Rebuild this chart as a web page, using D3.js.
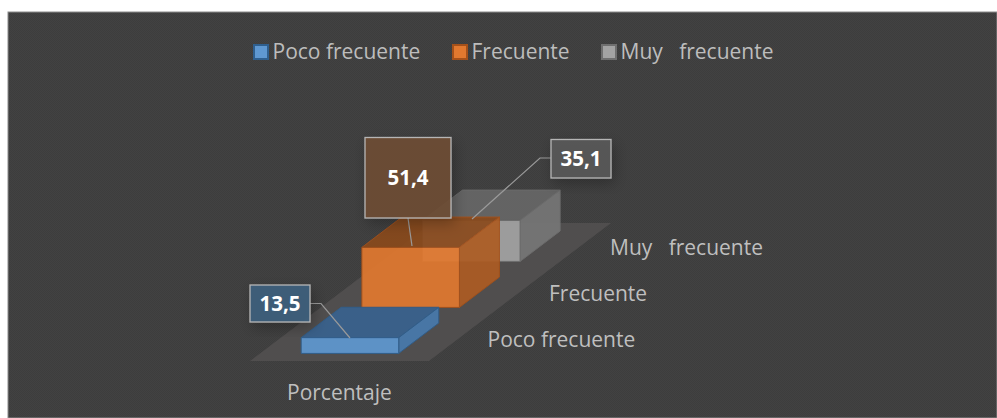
<!DOCTYPE html>
<html>
<head>
<meta charset="utf-8">
<script src="https://cdn.jsdelivr.net/npm/d3@7"></script>
<style>
  html, body { margin: 0; padding: 0; background: #fff; }
  svg { display: block; }
  text { font-family: "Open Sans", "Noto Sans", sans-serif; }
</style>
</head>
<body>
<svg id="chart" width="997" height="418"></svg>
<script>
// values
const categories = ["Poco frecuente", "Frecuente", "Muy   frecuente"];
const percentages = [13.5, 51.4, 35.1];
const labels = ["13,5", "51,4", "35,1"];
const seriesName = "Porcentaje";

const colors = ["#5f98d1", "#e2792f", "#a3a3a3"];
const topColors = ["#39628f", "#8a4a1c", "#676767"];
const sideColors = ["#487aad", "#ad5c23", "#777777"];
const edges = ["#2f5f8e", "#a5511a", "#6f6f6f"];

const width = 997, height = 418;
const svg = d3.select("#chart").attr("viewBox", [0, 0, width, height]);

// oblique projection: along the front edge, back into the floor, and up
const across = d3.scaleLinear().domain([0, 1]).range([0, 179]);
const depth = d3.scaleBand().domain(categories).range([0, 1]);
const up = d3.scaleLinear().domain([0, 100]).range([0, 116.7]);
const origin = [250, 361], depthVec = [182, -138];

function project(a, d, v) {
    return [
        origin[0] + across(a) + d * depthVec[0],
        origin[1] + d * depthVec[1] - up(v)
    ];
}
const poly = pts => "M" + pts.map(p => p.join(",")).join("L") + "Z";

const defs = svg.append("defs");
const shadow = defs.append("filter").attr("id", "shadow")
    .attr("x", "-40%").attr("y", "-40%").attr("width", "180%").attr("height", "180%");
shadow.append("feDropShadow").attr("dx", 3).attr("dy", 5).attr("stdDeviation", 7)
    .attr("flood-color", "#000").attr("flood-opacity", 0.28);

// fine weave of the panel background
const weave = defs.append("pattern").attr("id", "weave")
    .attr("width", 2).attr("height", 2).attr("patternUnits", "userSpaceOnUse");
weave.append("rect").attr("width", 2).attr("height", 2).attr("fill", "#424242");
weave.append("rect").attr("width", 1).attr("height", 1).attr("fill", "#3d3d3d");
weave.append("rect").attr("x", 1).attr("y", 1).attr("width", 1).attr("height", 1).attr("fill", "#3d3d3d");

// panel
svg.append("rect").attr("x", 8).attr("y", 12).attr("width", width - 8).attr("height", height - 12)
    .attr("fill", "url(#weave)").attr("stroke", "#8c8c8c").attr("stroke-width", 1);

// floor
svg.append("path")
    .attr("d", poly([project(0, 0, 0), project(1, 0, 0), project(1, 1, 0), project(0, 1, 0)]))
    .attr("fill", "#504e4e");

// bars, back to front
const barA0 = 0.23, barA1 = 0.775, barDepth = 0.22, barStart = 0.055;
const rows = categories.map((c, i) => ({ c, v: percentages[i], i }));

const bar = svg.append("g").selectAll("g")
    .data(rows.slice().reverse())
    .join("g")
    .attr("opacity", 0.92)
    .attr("stroke", d => edges[d.i])
    .attr("stroke-width", 1)
    .attr("stroke-linejoin", "round");

function corners(d) {
    const d0 = depth(d.c) + barStart;
    const d1 = d0 + barDepth;
    return {
        fb: project(barA0, d0, 0), fbr: project(barA1, d0, 0),
        ft: project(barA0, d0, d.v), ftr: project(barA1, d0, d.v),
        bt: project(barA0, d1, d.v), btr: project(barA1, d1, d.v),
        bbr: project(barA1, d1, 0)
    };
}

// top face
bar.append("path")
    .attr("d", d => { const k = corners(d); return poly([k.ft, k.ftr, k.btr, k.bt]); })
    .attr("fill", d => topColors[d.i]);
// side face
bar.append("path")
    .attr("d", d => { const k = corners(d); return poly([k.ftr, k.fbr, k.bbr, k.btr]); })
    .attr("fill", d => sideColors[d.i]);
// front face
bar.append("path")
    .attr("d", d => { const k = corners(d); return poly([k.fb, k.fbr, k.ftr, k.ft]); })
    .attr("fill", d => colors[d.i]);

// depth axis labels
const axisLabelX = [487.5, 549, 610];
svg.append("g").selectAll("text")
    .data(categories)
    .join("text")
    .attr("x", (d, i) => axisLabelX[i])
    .attr("y", d => project(1, depth(d), 0)[1] - 14)
    .attr("fill", "#bfbfbf")
    .attr("font-size", 21)
    .style("white-space", "pre")
    .text(d => d);

svg.append("text")
    .attr("x", 287).attr("y", 400)
    .attr("fill", "#bfbfbf").attr("font-size", 21)
    .text(seriesName);

// data labels with leader lines
const boxes = [
    { x: 250, y: 285, w: 60, h: 37, line: [[310, 303.5], [321, 303.5], [350, 338]] },
    { x: 365, y: 137.5, w: 86, h: 80.5, line: [[408, 218], [412, 246]] },
    { x: 551, y: 139.5, w: 60, h: 38.5, line: [[551, 158], [540, 158], [472, 219]] }
];
const boxFill = ["#3e5f7e", "#6f4c33", "#595959"];

const lab = svg.append("g").selectAll("g")
    .data(rows)
    .join("g");

lab.append("path")
    .attr("d", d => d3.line()(boxes[d.i].line))
    .attr("fill", "none").attr("stroke", "#9a9a9a").attr("stroke-width", 1.2);
lab.append("rect")
    .attr("x", d => boxes[d.i].x).attr("y", d => boxes[d.i].y)
    .attr("width", d => boxes[d.i].w).attr("height", d => boxes[d.i].h)
    .attr("fill", d => boxFill[d.i])
    .attr("fill-opacity", 0.9)
    .attr("stroke", "#b5b5b5").attr("stroke-width", 1.3)
    .attr("filter", "url(#shadow)");
lab.append("text")
    .attr("x", d => boxes[d.i].x + boxes[d.i].w / 2)
    .attr("y", d => boxes[d.i].y + boxes[d.i].h / 2)
    .attr("dy", "0.36em")
    .attr("text-anchor", "middle")
    .attr("fill", "#fff").attr("font-weight", 700).attr("font-size", 20.5)
    .text(d => labels[d.i]);

// legend
const legendX = [254, 453, 602];
const legend = svg.append("g").selectAll("g")
    .data(categories)
    .join("g")
    .attr("transform", (d, i) => `translate(${legendX[i]},45)`);
legend.append("rect")
    .attr("width", 14).attr("height", 14)
    .attr("fill", (d, i) => colors[i])
    .attr("stroke", (d, i) => edges[i]).attr("stroke-width", 2);
legend.append("text")
    .attr("x", 18.5).attr("y", 14)
    .attr("fill", "#bdbdbd").attr("font-size", 21)
    .style("white-space", "pre")
    .text(d => d);
</script>
</body>
</html>
